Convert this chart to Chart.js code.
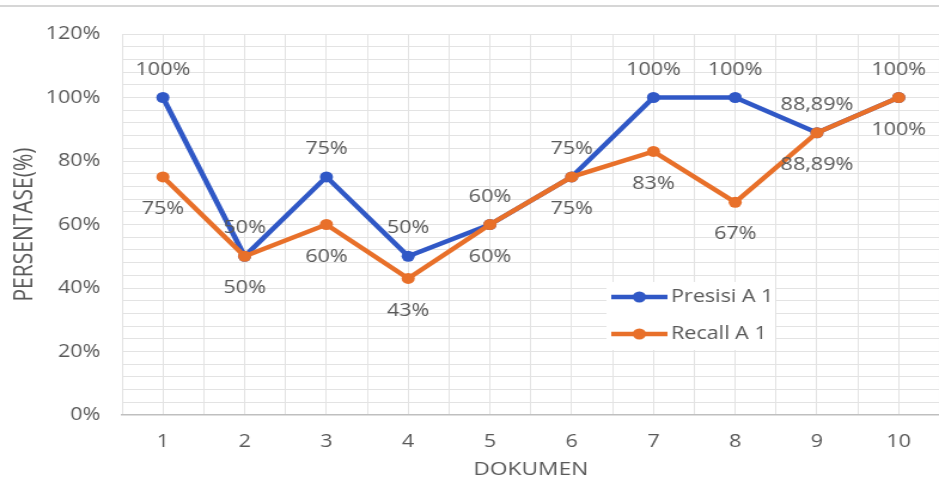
<!DOCTYPE html>
<html>
<head>
<meta charset="utf-8">
<script src="https://cdn.jsdelivr.net/npm/chart.js@4/dist/chart.umd.min.js"></script>
<style>
  html, body { margin: 0; padding: 0; background: #ffffff; width: 939px; height: 486px; overflow: hidden; position: relative; }
  #topline { position: absolute; left: 0; top: 5px; width: 939px; height: 2px; background: #d6d6d6; }
  #wrap { position: absolute; left: 0; top: 0; width: 791px; height: 486px; transform: scaleX(1.19618); transform-origin: 0 0; }
  canvas { display: block; }
</style>
</head>
<body>
<div id="topline"></div>
<div id="wrap"><canvas id="c" width="791" height="486"></canvas></div>
<script>
const categories = ['1', '2', '3', '4', '5', '6', '7', '8', '9', '10'];
const presisiA1 = [100, 50, 75, 50, 60, 75, 100, 100, 88.89, 100];
const recallA1 = [75, 50, 60, 43, 60, 75, 83, 67, 88.89, 100];
const yTickLabels = [0, 20, 40, 60, 80, 100, 120];
const seriesNames = ['Presisi A 1', 'Recall A 1'];

const BLUE = '#3058c6';
const ORANGE = '#e8702a';
const TEXT = '#595959';
const FONT = 'Open Sans';

function fmt(v) {
  if (Number.isInteger(v)) return v + '%';
  return v.toFixed(2).replace('.', ',') + '%';
}
function toPoints(arr) {
  return arr.map((v, i) => ({ x: i + 1, y: v }));
}

const dataLabels = {
  id: 'dataLabels',
  afterDatasetsDraw(chart) {
    const ctx = chart.ctx;
    ctx.save();
    ctx.font = '18px "' + FONT + '"';
    ctx.fillStyle = TEXT;
    ctx.textAlign = 'center';
    ctx.textBaseline = 'middle';
    chart.data.datasets.forEach((ds, i) => {
      const meta = chart.getDatasetMeta(i);
      meta.data.forEach((pt, j) => {
        const dy = ds.labelPos === 'above' ? -28 : 32;
        ctx.fillText(fmt(ds.data[j].y), pt.x, pt.y + dy);
      });
    });
    ctx.restore();
  }
};

const insideLegend = {
  id: 'insideLegend',
  afterDraw(chart, args, opts) {
    const ctx = chart.ctx;
    const bx = opts.x, by = opts.y;
    ctx.save();
    ctx.fillStyle = '#ffffff';
    ctx.fillRect(bx, by, 141, 68);
    ctx.font = '18px "' + FONT + '"';
    ctx.textBaseline = 'middle';
    ctx.textAlign = 'left';
    chart.data.datasets.forEach((ds, i) => {
      const y = by + 15 + i * 37;
      ctx.strokeStyle = ds.borderColor;
      ctx.lineWidth = 4.5;
      ctx.beginPath();
      ctx.moveTo(bx + 4, y);
      ctx.lineTo(bx + 51, y);
      ctx.stroke();
      ctx.fillStyle = ds.backgroundColor;
      ctx.beginPath();
      ctx.arc(bx + 27.5, y, 5.5, 0, Math.PI * 2);
      ctx.fill();
      ctx.fillStyle = TEXT;
      ctx.fillText(ds.label, bx + 54, y);
    });
    ctx.restore();
  }
};

new Chart(document.getElementById('c'), {
  type: 'line',
  data: {
    datasets: [
      {
        label: seriesNames[0],
        data: toPoints(presisiA1),
        borderColor: BLUE,
        backgroundColor: BLUE,
        borderWidth: 4.5,
        pointRadius: 5.5,
        pointHoverRadius: 5.5,
        pointBorderWidth: 0,
        tension: 0,
        order: 1,
        labelPos: 'above'
      },
      {
        label: seriesNames[1],
        data: toPoints(recallA1),
        borderColor: ORANGE,
        backgroundColor: ORANGE,
        borderWidth: 4.5,
        pointRadius: 5.5,
        pointHoverRadius: 5.5,
        pointBorderWidth: 0,
        tension: 0,
        order: 0,
        labelPos: 'below'
      }
    ]
  },
  options: {
    responsive: false,
    animation: false,
    devicePixelRatio: 1,
    layout: { padding: { top: 34, left: 0, right: 0, bottom: 0 } },
    plugins: {
      legend: { display: false },
      tooltip: { enabled: false },
      insideLegend: { x: 507, y: 282 }
    },
    scales: {
      x: {
        type: 'linear',
        min: 0.5,
        max: 10.5,
        afterFit(scale) { scale.height = 71; scale.paddingRight = 0; scale.paddingLeft = 0; },
        ticks: {
          stepSize: 0.5,
          autoSkip: false,
          maxRotation: 0,
          padding: 16,
          color: TEXT,
          font: { family: FONT, size: 18 },
          callback(v) {
            return Number.isInteger(v) ? categories[v - 1] : '';
          }
        },
        grid: { color: '#e3e3e3', lineWidth: 1, drawTicks: false },
        border: { display: true, color: '#bfbfbf', width: 1.5 },
        title: {
          display: true,
          text: 'DOKUMEN',
          color: TEXT,
          font: { family: FONT, size: 19 },
          padding: { top: 0, bottom: 5 }
        }
      },
      y: {
        min: 0,
        max: 120,
        afterFit(scale) { scale.width = 102; scale.paddingTop = 0; scale.paddingBottom = 0; },
        ticks: {
          stepSize: 4,
          autoSkip: false,
          padding: 18,
          color: TEXT,
          font: { family: FONT, size: 18 },
          callback(v) {
            return yTickLabels.includes(v) ? v + '%' : '';
          }
        },
        grid: {
          color: (c) => (c.tick && c.tick.value === 0) ? 'rgba(0,0,0,0)' : '#e3e3e3',
          lineWidth: 1,
          drawTicks: false
        },
        border: { display: false },
        title: {
          display: true,
          text: 'PERSENTASE(%)',
          color: TEXT,
          font: { family: FONT, size: 21 },
          padding: { top: 8, bottom: 0 }
        }
      }
    }
  },
  plugins: [dataLabels, insideLegend]
});
</script>
</body>
</html>
